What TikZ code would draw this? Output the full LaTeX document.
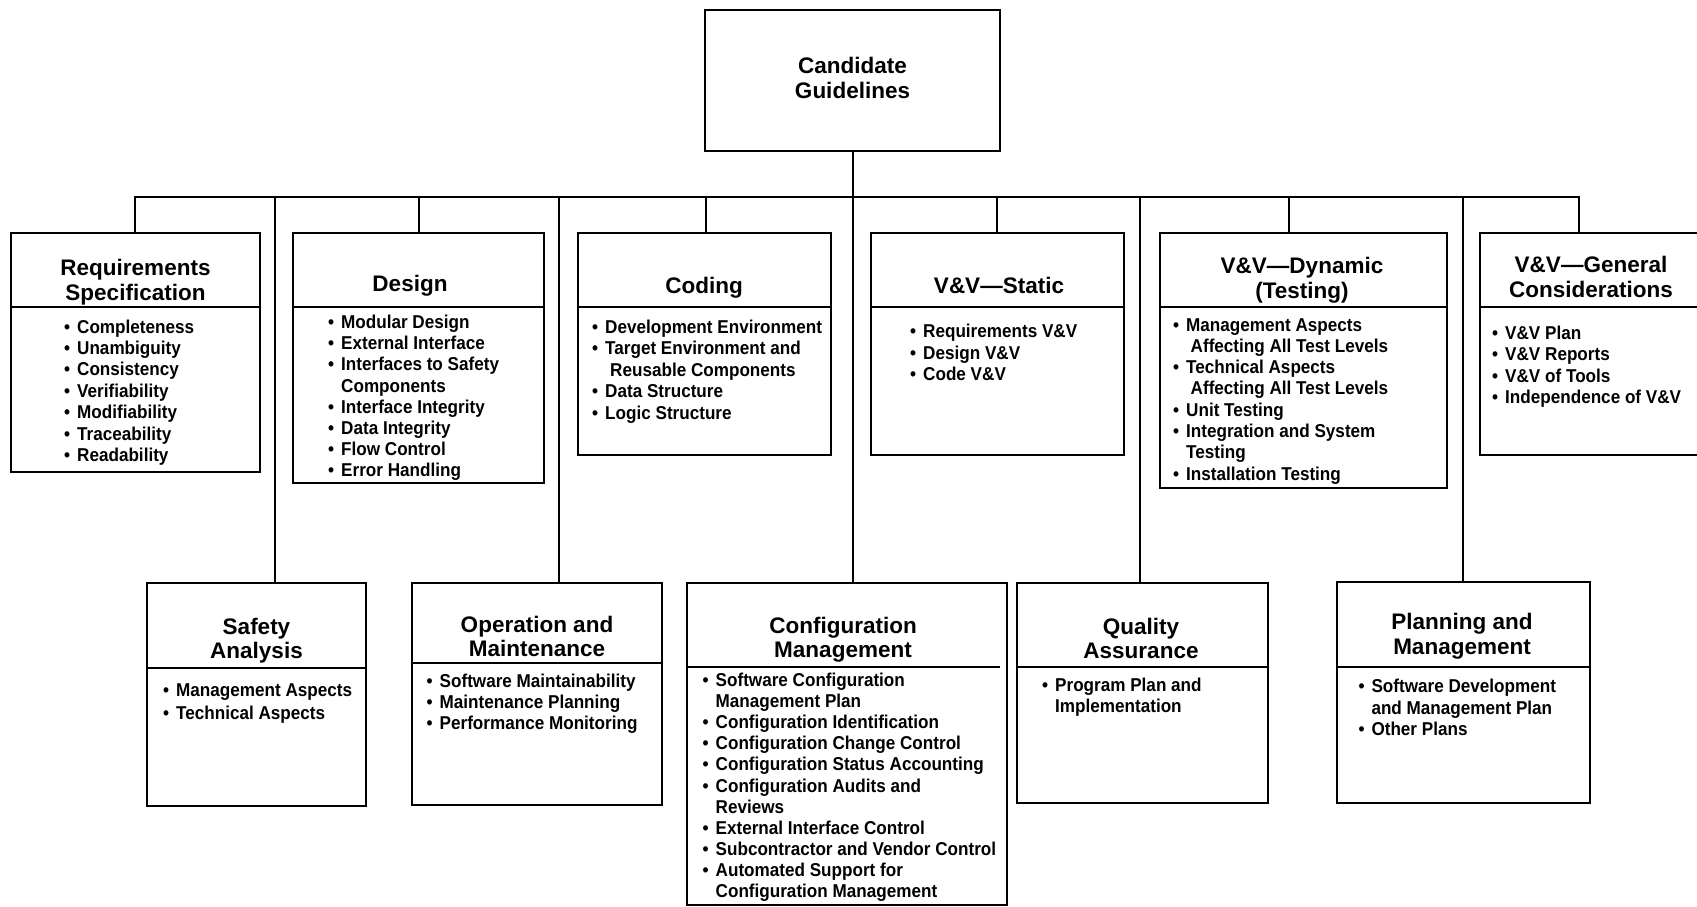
\documentclass[tikz,border=0pt]{standalone}
\usepackage{fontspec}
\newfontfamily\tfont{Liberation Sans}
\newfontfamily\ifont[FakeStretch=0.92]{Liberation Sans}
\newcommand\bul{\makebox[13pt][l]{•}}
\newcommand\itemsat[5]{\foreach \txt [count=\idx] in {#5} {\node[itm] (#1-\idx) at (#2, {#3+(\idx-1)*#4}) {\txt};}}
\begin{document}
\begin{tikzpicture}[x=1pt,y=-1pt,
  gbox/.style={draw, line width=2.3pt, inner sep=0pt, outer sep=0pt, anchor=north west},
  wire/.style={line width=2pt},
  divl/.style={line width=2pt},
  ttl/.style={font=\tfont\bfseries\fontsize{22.5}{25}\selectfont, anchor=base, inner sep=0pt},
  itm/.style={font=\ifont\bfseries\fontsize{18.6}{21.3}\selectfont, anchor=base west, inner sep=0pt}]
\useasboundingbox (0,0) rectangle (1697,907);
% top
\node[gbox, minimum width=295pt, minimum height=141pt] (top) at (705,10) {};
\node[ttl] (top-1) at (852.5,74) {Candidate};
\node[ttl] (top-2) at (852.5,99) {Guidelines};
% top row boxes
\node[gbox, minimum width=249pt, minimum height=239pt] (req) at (11,233) {};
\node[gbox, minimum width=251pt, minimum height=250pt] (des) at (293,233) {};
\node[gbox, minimum width=253pt, minimum height=222pt] (cod) at (578,233) {};
\node[gbox, minimum width=253pt, minimum height=222pt] (vvs) at (871,233) {};
\node[gbox, minimum width=287pt, minimum height=255pt] (vvd) at (1160,233) {};
\node[gbox, minimum width=222pt, minimum height=222pt] (vvg) at (1480,233) {};
% bottom row boxes
\node[gbox, minimum width=219pt, minimum height=223pt] (saf) at (147,583) {};
\node[gbox, minimum width=250pt, minimum height=222pt] (opm) at (412,583) {};
\node[gbox, minimum width=320pt, minimum height=322pt] (cfg) at (687,583) {};
\node[gbox, minimum width=251pt, minimum height=220pt] (qa) at (1017,583) {};
\node[gbox, minimum width=253pt, minimum height=221pt] (plm) at (1337,582) {};
% dividers
\foreach \b in {req,des,cod,vvs,vvd,vvg}
  \draw[divl] ([yshift=-74pt]\b.north west) -- ([yshift=-74pt]\b.north east);
\draw[divl] ([yshift=-85pt]saf.north west) -- ([yshift=-85pt]saf.north east);
\draw[divl] ([yshift=-80pt]opm.north west) -- ([yshift=-80pt]opm.north east);
\draw[divl] ([yshift=-84pt]cfg.north west) -- ([xshift=-7pt,yshift=-84pt]cfg.north east);
\draw[divl] ([yshift=-84pt]qa.north west) -- ([yshift=-84pt]qa.north east);
\draw[divl] ([yshift=-85pt]plm.north west) -- ([yshift=-85pt]plm.north east);
% titles
\node[ttl] (req-t1) at (135.5,275) {Requirements};
\node[ttl] (req-t2) at (135.5,300) {Specification};
\node[ttl] (des-t) at (410,291) {Design};
\node[ttl] (cod-t) at (704,293.5) {Coding};
\node[ttl] (vvs-t) at (999,293.5) {V\&V—Static};
\node[ttl] (vvd-t1) at (1302,273) {V\&V—Dynamic};
\node[ttl] (vvd-t2) at (1302,298) {(Testing)};
\node[ttl] (vvg-t1) at (1591,272) {V\&V—General};
\node[ttl] (vvg-t2) at (1591,297) {Considerations};
\node[ttl] (saf-t1) at (256.5,634) {Safety};
\node[ttl] (saf-t2) at (256.5,658) {Analysis};
\node[ttl] (opm-t1) at (537,632) {Operation and};
\node[ttl] (opm-t2) at (537,656) {Maintenance};
\node[ttl] (cfg-t1) at (843,633) {Configuration};
\node[ttl] (cfg-t2) at (843,657) {Management};
\node[ttl] (qa-t1) at (1141,634) {Quality};
\node[ttl] (qa-t2) at (1141,658) {Assurance};
\node[ttl] (plm-t1) at (1462,629) {Planning and};
\node[ttl] (plm-t2) at (1462,654) {Management};
% items
\itemsat{req-i}{64}{333}{21.47}{{\bul Completeness},{\bul Unambiguity},{\bul Consistency},{\bul Verifiability},{\bul Modifiability},{\bul Traceability},{\bul Readability}}
\itemsat{des-i}{328}{328.5}{21.2}{{\bul Modular Design},{\bul External Interface},{\bul Interfaces to Safety},{\hspace*{13pt}Components},{\bul Interface Integrity},{\bul Data Integrity},{\bul Flow Control},{\bul Error Handling}}
\itemsat{cod-i}{592}{333.5}{21.4}{{\bul Development Environment},{\bul Target Environment and},{\hspace*{18pt}Reusable Components},{\bul Data Structure},{\bul Logic Structure}}
\itemsat{vvs-i}{910}{337.5}{21.6}{{\bul Requirements V\&V},{\bul Design V\&V},{\bul Code V\&V}}
\itemsat{vvd-i}{1173}{331}{21.33}{{\bul Management Aspects},{\hspace*{17.5pt}Affecting All Test Levels},{\bul Technical Aspects},{\hspace*{17.5pt}Affecting All Test Levels},{\bul Unit Testing},{\bul Integration and System},{\hspace*{13pt}Testing},{\bul Installation Testing}}
\itemsat{vvg-i}{1492}{339.5}{21.3}{{\bul V\&V Plan},{\bul V\&V Reports},{\bul V\&V of Tools},{\bul Independence of V\&V}}
\itemsat{saf-i}{163}{696.5}{22.5}{{\bul Management Aspects},{\bul Technical Aspects}}
\itemsat{opm-i}{426.5}{687}{21.1}{{\bul Software Maintainability},{\bul Maintenance Planning},{\bul Performance Monitoring}}
\itemsat{cfg-i}{702.5}{686.5}{21.1}{{\bul Software Configuration},{\hspace*{13pt}Management Plan},{\bul Configuration Identification},{\bul Configuration Change Control},{\bul Configuration Status Accounting},{\bul Configuration Audits and},{\hspace*{13pt}Reviews},{\bul External Interface Control},{\bul Subcontractor and Vendor Control},{\bul Automated Support for},{\hspace*{13pt}Configuration Management}}
\itemsat{qa-i}{1042}{691.5}{21}{{\bul Program Plan and},{\hspace*{13pt}Implementation}}
\itemsat{plm-i}{1358.3}{692.5}{21.6}{{\bul Software Development},{\hspace*{13pt}and Management Plan},{\bul Other Plans}}
% connectors
\coordinate (j-req) at (135,197);
\coordinate (j-saf) at (275,197);
\coordinate (j-des) at (419,197);
\coordinate (j-opm) at (559,197);
\coordinate (j-cod) at (706,197);
\coordinate (j-vvs) at (997,197);
\coordinate (j-qa) at (1140,197);
\coordinate (j-vvd) at (1289,197);
\coordinate (j-plm) at (1462.5,197);
\coordinate (j-vvg) at (1579,197);
\draw[wire] (j-req |- req.north) -- (j-req) -- (j-vvg) -- (j-vvg |- vvg.north);
\draw[wire] (top.south) -- (top.south |- cfg.north);
\foreach \j in {des,cod,vvs,vvd,saf,opm,qa,plm}
  \draw[wire] (j-\j) -- (j-\j |- \j.north);
\end{tikzpicture}
\end{document}
